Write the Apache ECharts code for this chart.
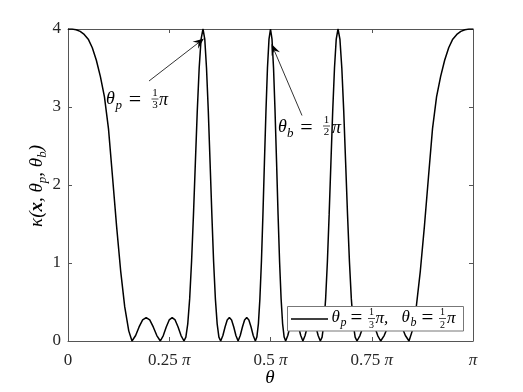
<!DOCTYPE html>
<html lang="en">
<head>
<meta charset="UTF-8">
<title>kappa</title>
<style>
    body{margin:0;background:#fff;}
    #main{width:523px;height:392px;}
</style>
</head>
<body>
<div id="main"></div>
<script src="https://cdn.jsdelivr.net/npm/echarts/dist/echarts.min.js"></script>
<script>
// theta is in units of pi
var theta = [
    0.000, 0.010, 0.020, 0.030, 0.040, 0.050, 0.060, 0.070, 0.080, 0.090,
    0.100, 0.110, 0.120, 0.130, 0.140, 0.150, 0.158,
    0.167, 0.1755, 0.1843, 0.193, 0.2018, 0.2105, 0.2193, 0.228,
    0.2353, 0.2426, 0.2499, 0.2572, 0.2645, 0.2718, 0.2791, 0.2864,
    0.2910, 0.2957, 0.3004, 0.3051, 0.3098, 0.3145, 0.3192, 0.3239, 0.3286, 0.3333,
    0.3377, 0.3420, 0.3464, 0.3508, 0.3552, 0.3595, 0.3639, 0.3683, 0.3726, 0.3770,
    0.3824, 0.3878, 0.3931, 0.3985, 0.4039, 0.4093, 0.4146, 0.4200,
    0.4253, 0.4307, 0.4360, 0.4413, 0.4466, 0.4520, 0.4573, 0.4626,
    0.4663, 0.4701, 0.4738, 0.4776, 0.4813, 0.4850, 0.4888, 0.4925, 0.4963, 0.5000,
    0.5037, 0.5075, 0.5112, 0.5150, 0.5187, 0.5224, 0.5262, 0.5299, 0.5337, 0.5374,
    0.5427, 0.5480, 0.5534, 0.5587, 0.5640, 0.5693, 0.5747, 0.5800,
    0.5854, 0.5907, 0.5961, 0.6015, 0.6069, 0.6122, 0.6176, 0.6230,
    0.6274, 0.6317, 0.6361, 0.6405, 0.6448, 0.6492, 0.6536, 0.6580, 0.6623, 0.6667,
    0.6714, 0.6761, 0.6808, 0.6855, 0.6902, 0.6949, 0.6996, 0.7043, 0.7090, 0.7136,
    0.7209, 0.7282, 0.7355, 0.7428, 0.7501, 0.7574, 0.7647, 0.7720,
    0.7807, 0.7895, 0.7982, 0.8070, 0.8157, 0.8245, 0.8330, 0.8420,
    0.850, 0.860, 0.870, 0.880, 0.890, 0.900, 0.910, 0.920, 0.930, 0.940,
    0.950, 0.960, 0.970, 0.980, 0.990, 1.000
];
var kappa = [
    4.00, 4.00, 3.99, 3.97, 3.93, 3.87, 3.76, 3.60, 3.39, 3.13,
    2.72, 2.10, 1.47, 0.90, 0.44, 0.13, 0.00,
    0.07, 0.18, 0.27, 0.30, 0.27, 0.18, 0.07, 0.00,
    0.07, 0.18, 0.27, 0.30, 0.27, 0.18, 0.07, 0.00,
    0.05, 0.22, 0.54, 1.02, 1.62, 2.29, 2.95, 3.50, 3.87, 4.00,
    3.87, 3.50, 2.95, 2.29, 1.62, 1.02, 0.54, 0.22, 0.05, 0.00,
    0.07, 0.18, 0.27, 0.30, 0.27, 0.18, 0.07, 0.00,
    0.07, 0.18, 0.27, 0.30, 0.27, 0.18, 0.07, 0.00,
    0.05, 0.22, 0.54, 1.02, 1.62, 2.29, 2.95, 3.50, 3.87, 4.00,
    3.87, 3.50, 2.95, 2.29, 1.62, 1.02, 0.54, 0.22, 0.05, 0.00,
    0.07, 0.18, 0.27, 0.30, 0.27, 0.18, 0.07, 0.00,
    0.07, 0.18, 0.27, 0.30, 0.27, 0.18, 0.07, 0.00,
    0.05, 0.22, 0.54, 1.02, 1.62, 2.29, 2.95, 3.50, 3.87, 4.00,
    3.87, 3.50, 2.95, 2.29, 1.62, 1.02, 0.54, 0.22, 0.05, 0.00,
    0.07, 0.18, 0.27, 0.30, 0.27, 0.18, 0.07, 0.00,
    0.07, 0.18, 0.27, 0.30, 0.27, 0.18, 0.07, 0.00,
    0.13, 0.44, 0.90, 1.47, 2.10, 2.72, 3.13, 3.39, 3.60, 3.76,
    3.87, 3.93, 3.97, 3.99, 4.00, 4.00
];
var xTicks = [0, 0.25, 0.5, 0.75, 1];
var xTickLabels = ['0', '0.25 {p|π}', '0.5 {p|π}', '0.75 {p|π}', '{p|π}'];

var serif = '"Liberation Serif", "DejaVu Serif", serif';
var axisCol = '#555';

var pts = theta.map(function (t, i) { return [t, kappa[i]]; });

// small helpers for the math-looking annotations
function t(x, y, s, size, italic, align) {
    return {
        type: 'text', x: x, y: y, z: 100, silent: true,
        style: {
            text: s, fill: '#000', fontSize: size, fontFamily: serif,
            fontStyle: italic ? 'italic' : 'normal',
            align: align || 'left', verticalAlign: 'middle',
            textAlign: align || 'left', textVerticalAlign: 'middle'
        }
    };
}
function frac(cx, cy, num, den, size) {
    return [
        t(cx, cy - 6, num, size, false, 'center'),
        {type: 'line', z: 100, silent: true, shape: {x1: cx - 3.5, y1: cy, x2: cx + 3.5, y2: cy},
            style: {stroke: '#000', lineWidth: 0.7}},
        t(cx, cy + 6.5, den, size, false, 'center')
    ];
}
function arrow(x0, y0, x1, y1) {
    var dx = x1 - x0, dy = y1 - y0, L = Math.sqrt(dx * dx + dy * dy);
    var ux = dx / L, uy = dy / L, px = -uy, py = ux;
    var hl = 11, hw = 4.5, notch = 7;
    var bx = x1 - ux * hl, by = y1 - uy * hl;
    return [
        {type: 'line', z: 100, silent: true,
            shape: {x1: x0, y1: y0, x2: x1 - ux * notch, y2: y1 - uy * notch},
            style: {stroke: '#000', lineWidth: 0.8}},
        {type: 'polygon', z: 100, silent: true,
            shape: {points: [[x1, y1], [bx + px * hw, by + py * hw], [x1 - ux * notch, y1 - uy * notch], [bx - px * hw, by - py * hw]]},
            style: {fill: '#000'}}
    ];
}

var graphics = [];
// annotation theta_p
graphics.push(t(106, 99.5, 'θ', 18, true));
graphics.push(t(115.5, 106, 'p', 13, true));
graphics.push(t(135, 100, '=', 22, false, 'center'));
graphics = graphics.concat(frac(155, 99, '1', '3', 11));
graphics.push(t(159, 100, 'π', 18, true));
graphics = graphics.concat(arrow(149, 81, 204, 38.5));
// annotation theta_b
graphics.push(t(278, 127.5, 'θ', 18, true));
graphics.push(t(287, 134, 'b', 13, true));
graphics.push(t(306.5, 128, '=', 22, false, 'center'));
graphics = graphics.concat(frac(326.5, 126, '1', '2', 11));
graphics.push(t(332, 128, 'π', 18, true));
graphics = graphics.concat(arrow(302, 115.5, 271.5, 44));
// legend box
graphics.push({type: 'rect', z: 99, silent: true, shape: {x: 287.5, y: 306.5, width: 176, height: 24.5},
    style: {fill: '#fff', stroke: '#777', lineWidth: 1}});
graphics.push({type: 'line', z: 100, silent: true, shape: {x1: 291, y1: 319, x2: 328, y2: 319},
    style: {stroke: '#000', lineWidth: 1.5}});
graphics.push(t(331.5, 318, 'θ', 17, true));
graphics.push(t(340.5, 323, 'p', 12, true));
graphics.push(t(356.5, 318.5, '=', 21, false, 'center'));
graphics = graphics.concat(frac(371.5, 318.5, '1', '3', 10));
graphics.push(t(375.5, 318.5, 'π,', 17, true));
graphics.push(t(401.5, 318, 'θ', 17, true));
graphics.push(t(410.5, 323, 'b', 12, true));
graphics.push(t(427.5, 318.5, '=', 21, false, 'center'));
graphics = graphics.concat(frac(442.5, 318.5, '1', '2', 10));
graphics.push(t(447, 318.5, 'π', 17, true));
// axis titles
graphics.push(t(270, 378, 'θ', 19, true, 'center'));
graphics.push({
    type: 'text', x: 37, y: 186, rotation: Math.PI / 2, z: 100, silent: true,
    style: {
        text: '{n|κ(}{b|x}{n|, θ}{s|p}{n|, θ}{s|b}{n|)}',
        align: 'center', verticalAlign: 'middle', textAlign: 'center', textVerticalAlign: 'middle',
        rich: {
            n: {fontSize: 19, fontFamily: serif, fontStyle: 'italic', lineHeight: 24, verticalAlign: 'middle', fill: '#000'},
            b: {fontSize: 19, fontFamily: serif, fontStyle: 'italic', fontWeight: 'bold', lineHeight: 24, verticalAlign: 'middle', fill: '#000'},
            s: {fontSize: 13, fontFamily: serif, fontStyle: 'italic', lineHeight: 13, verticalAlign: 'bottom', fill: '#000'}
        }
    }
});

var chart = echarts.init(document.getElementById('main'));
var axisCommon = {
    axisLine: {show: true, onZero: false, lineStyle: {color: axisCol, width: 1}},
    axisTick: {show: true, inside: true, length: 4, lineStyle: {color: axisCol}},
    splitLine: {show: false}
};
chart.setOption({
    animation: false,
    backgroundColor: '#fff',
    grid: {left: 68, right: 50, top: 29, bottom: 51},
    xAxis: [
        Object.assign({
            type: 'value', min: 0, max: 1, interval: 0.25, position: 'bottom',
            axisLabel: {
                margin: 11, color: '#262626', fontFamily: serif, fontSize: 17,
                formatter: function (v) {
                    var i = xTicks.indexOf(Math.round(v * 100) / 100);
                    return i >= 0 ? xTickLabels[i] : '';
                },
                rich: {p: {fontFamily: serif, fontSize: 17, fontStyle: 'italic', color: '#262626'}}
            }
        }, axisCommon),
        Object.assign({
            type: 'value', min: 0, max: 1, interval: 0.25, position: 'top',
            axisLabel: {show: false}
        }, axisCommon)
    ],
    yAxis: [
        Object.assign({
            type: 'value', min: 0, max: 4, interval: 1, position: 'left',
            axisLabel: {margin: 7, color: '#262626', fontFamily: serif, fontSize: 17}
        }, axisCommon),
        Object.assign({
            type: 'value', min: 0, max: 4, interval: 1, position: 'right',
            axisLabel: {show: false}
        }, axisCommon)
    ],
    series: [{
        name: 'kappa',
        type: 'line',
        xAxisIndex: 0,
        yAxisIndex: 0,
        data: pts,
        showSymbol: false,
        lineStyle: {color: '#000', width: 1.5},
        z: 2
    }],
    graphic: graphics
});
</script>
</body>
</html>
